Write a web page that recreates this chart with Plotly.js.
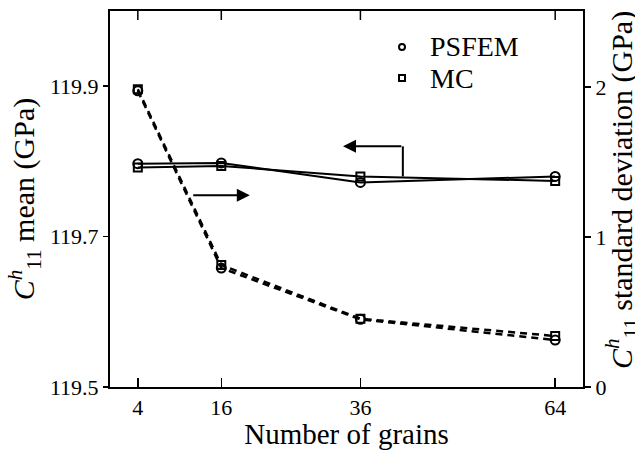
<!DOCTYPE html>
<html>
<head>
<meta charset="utf-8">
<script src="https://cdn.plot.ly/plotly-3.0.1.min.js"></script>
<style>html,body{margin:0;padding:0;background:#fff;}#chart{width:635px;height:450px;}</style>
</head>
<body>
<div id="chart"></div>
<script>
// Data
var grains = [4, 16, 36, 64];
var meanPSFEM = [119.797, 119.798, 119.772, 119.780];
var meanMC    = [119.792, 119.794, 119.780, 119.774];
var stdPSFEM  = [1.975, 0.793, 0.451, 0.313];
var stdMC     = [1.985, 0.813, 0.455, 0.340];
var xTicks = [4, 16, 36, 64];
var yTicks = [119.5, 119.7, 119.9];
var y2Ticks = [0, 1, 2];
var seriesNames = ['PSFEM', 'MC'];
var rightTitle = '<i>C</i><sup><i>h</i></sup><sub>11</sub> standard deviation (GPa)';

var FONT = '"Liberation Serif", "Times New Roman", serif';
var circ = {symbol: 'circle-open', size: 9, color: '#000', line: {width: 2, color: '#000'}};
var sq = {symbol: 'square-open', size: 8, color: '#000', line: {width: 2, color: '#000'}};

var traces = [
  {x: grains, y: meanPSFEM, mode: 'lines+markers', line: {color: '#000', width: 2}, marker: circ, showlegend: false},
  {x: grains, y: meanMC, mode: 'lines+markers', line: {color: '#000', width: 2}, marker: sq, showlegend: false},
  {x: grains, y: stdPSFEM, yaxis: 'y2', mode: 'lines+markers', line: {color: '#000', width: 2.5, dash: '7px,5px'}, marker: circ, showlegend: false},
  {x: grains, y: stdMC, yaxis: 'y2', mode: 'lines+markers', line: {color: '#000', width: 2.5, dash: '7px,5px'}, marker: sq, showlegend: false}
];

var PL = 110, PW = 473, PT = 11, PH = 376;
function px(v){ return (v - PL) / PW; }
function py(v){ return 1 - (v - PT) / PH; }

// inside tick marks along the top frame, one per x tick value
var topTicks = xTicks.map(function(v){
  return {type: 'line', xref: 'x', yref: 'paper', x0: v, x1: v, y0: 1, y1: 1 - 9 / PH,
          line: {color: '#000', width: 1.5}};
});

var layout = {
  width: 635, height: 450,
  margin: {l: PL, r: 635 - PL - PW, t: PT, b: 450 - PT - PH},
  paper_bgcolor: '#fff', plot_bgcolor: '#fff',
  font: {family: FONT, color: '#000', size: 22},
  showlegend: false,
  xaxis: {
    range: [0, 68], tickvals: xTicks, ticktext: xTicks.map(String),
    ticks: 'inside', ticklen: 9, tickwidth: 1.5, tickcolor: '#000',
    showline: true, linewidth: 2, linecolor: '#000', mirror: true,
    showgrid: false, zeroline: false,
    tickfont: {family: FONT, size: 22, color: '#000'},
    title: {text: 'Number of grains', font: {family: FONT, size: 29, color: '#000'}, standoff: 2}
  },
  yaxis: {
    range: [119.5, 120.0], tickvals: yTicks, ticktext: yTicks.map(function(v){return v.toFixed(1);}),
    ticks: 'outside', ticklen: 5, tickwidth: 1.5, tickcolor: '#000',
    showline: true, linewidth: 2, linecolor: '#000', mirror: false,
    showgrid: false, zeroline: false,
    tickfont: {family: FONT, size: 22, color: '#000'},
    title: {text: '<i>C</i><sup><i>h</i></sup><sub>11</sub> mean (GPa)', font: {family: FONT, size: 30, color: '#000'}, standoff: 6}
  },
  yaxis2: {
    range: [0, 2.507], tickvals: y2Ticks, ticktext: y2Ticks.map(String),
    overlaying: 'y', side: 'right',
    ticks: 'outside', ticklen: 6, tickwidth: 1.5, tickcolor: '#000',
    showline: true, linewidth: 2, linecolor: '#000',
    showgrid: false, zeroline: false,
    tickfont: {family: FONT, size: 22, color: '#000'}
  },
  shapes: topTicks.concat([
    {type: 'line', xref: 'x', yref: 'y', x0: 42.1, x1: 42.1, y0: 119.820, y1: 119.780, line: {color: '#000', width: 2}},
    {type: 'circle', xref: 'paper', yref: 'paper', x0: px(399), x1: px(405), y0: py(44), y1: py(50), line: {color: '#000', width: 2}},
    {type: 'rect', xref: 'paper', yref: 'paper', x0: px(399), x1: px(405), y0: py(75), y1: py(81), line: {color: '#000', width: 2}}
  ]),
  annotations: [
    {xref: 'x', yref: 'y', axref: 'x', ayref: 'y', x: 33.5, y: 119.820, ax: 42.1, ay: 119.820,
     text: '', showarrow: true, arrowhead: 2, arrowsize: 1.3, arrowwidth: 2, arrowcolor: '#000'},
    {xref: 'x', yref: 'y', axref: 'x', ayref: 'y', x: 20.1, y: 119.755, ax: 11.75, ay: 119.755,
     text: '', showarrow: true, arrowhead: 2, arrowsize: 1.3, arrowwidth: 2, arrowcolor: '#000'},
    {xref: 'paper', yref: 'paper', x: px(428), y: py(47), xanchor: 'left', yanchor: 'middle', showarrow: false,
     text: seriesNames[0], font: {family: FONT, size: 28, color: '#000'}},
    {xref: 'paper', yref: 'paper', x: px(428), y: py(78), xanchor: 'left', yanchor: 'middle', showarrow: false,
     text: seriesNames[1], font: {family: FONT, size: 28, color: '#000'}},
    {xref: 'paper', yref: 'paper', x: px(621), y: py(190), xanchor: 'center', yanchor: 'middle', showarrow: false,
     textangle: -90, text: rightTitle, font: {family: FONT, size: 30, color: '#000'}}
  ]
};

Plotly.newPlot('chart', traces, layout, {displayModeBar: false, staticPlot: true});
</script>
</body>
</html>
